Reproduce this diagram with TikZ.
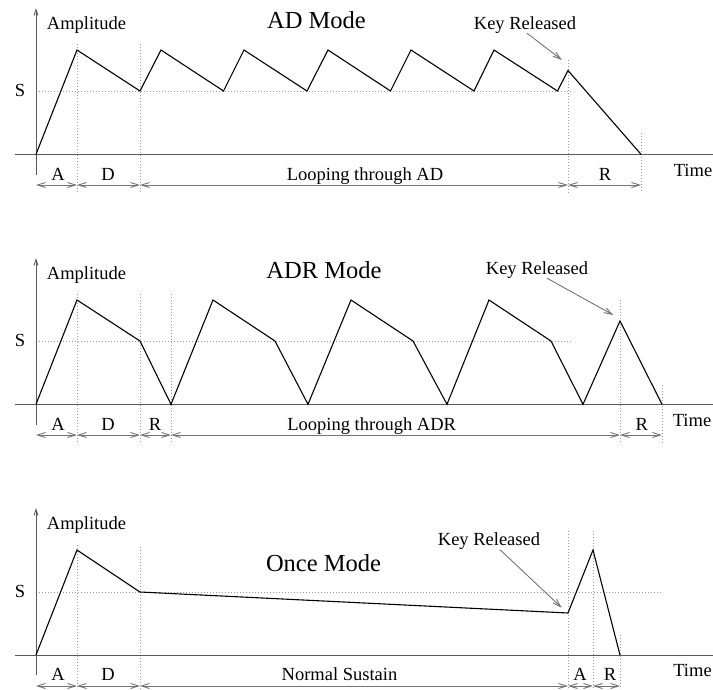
\documentclass[tikz,border=0pt]{standalone}
\usepackage{fontspec}
\setmainfont{Liberation Serif}
\usetikzlibrary{arrows.meta}

\tikzset{
  env/.style={line width=1.1pt, line join=miter},
  axis/.style={line width=0.9pt, black!65},
  guide/.style={line width=0.9pt, black!40, dash pattern=on 1pt off 2pt},
  dim/.style={line width=0.9pt, black!55,
    {Straight Barb[length=8pt,width=5pt]}-{Straight Barb[length=8pt,width=5pt]}},
  pointer/.style={line width=0.9pt, black!55, -{Straight Barb[length=8pt,width=5pt]}},
  yarrow/.style={axis, -{Straight Barb[length=6pt,width=4pt]}},
  lbl/.style={anchor=base, inner sep=0pt, font=\fontsize{18.5}{22}\selectfont},
  mode/.style={anchor=base, inner sep=0pt, font=\fontsize{24.5}{28}\selectfont},
}

\begin{document}
\begin{tikzpicture}[x=1pt, y=-1pt]
  \useasboundingbox (0,0) rectangle (713,689);

  % ---------------- AD mode ----------------
  \coordinate (a0) at (36,154.3);
  \foreach \i/\x in {1/77,2/161,3/244,4/328,5/411,6/494}
    \coordinate (ap\i) at (\x,50);
  \foreach \i/\x in {1/140,2/223.5,3/307,4/390.5,5/474,6/557.5}
    \coordinate (as\i) at (\x,91);
  \coordinate (ak) at (568,70.5);
  \coordinate (ae) at (641,154.3);
  \coordinate (arow) at (0,185);
  \coordinate (atop) at (36,8);
  \coordinate (abot) at (36,175);
  \coordinate (ax0) at (15,154.3);
  \coordinate (ax1) at (713,154.3);
  \coordinate (akt) at (562,60);

  \draw[guide] (36,91) -- (572,91);
  \draw[guide] (77,44) -- (77,193);
  \draw[guide] (140,44) -- (140,193);
  \draw[guide] (568,60) -- (568,193);
  \draw[guide] (641,133) -- (641,193);

  \draw[axis] (ax0) -- (ax1);
  \draw[yarrow] (abot) -- (atop);
  \draw[env] (a0) \foreach \i in {1,...,6}{ -- (ap\i) -- (as\i)} -- (ak) -- (ae);

  \draw[dim] (a0 |- arow) -- (ap1 |- arow);
  \draw[dim] (ap1 |- arow) -- (as1 |- arow);
  \draw[dim] (as1 |- arow) -- (ak |- arow);
  \draw[dim] (ak |- arow) -- (ae |- arow);

  \node[lbl] (aamp) at (86.5,29.3) {Amplitude};
  \node[lbl] (aslbl) at (20,96.7) {S};
  \node[mode] (amode) at (316.5,28.3) {AD Mode};
  \node[lbl] (aA) at (58,180) {A};
  \node[lbl] (aD) at (108,180) {D};
  \node[lbl] (aloop) at (365,180) {Looping through AD};
  \node[lbl] (aR) at (605,180) {R};
  \node[lbl] (atime) at (693,176) {Time};
  \node[lbl] (akey) at (525,29) {Key Released};
  \draw[pointer] ([xshift=2pt]akey.south) -- (akt);

  % ---------------- ADR mode ----------------
  \coordinate (b0) at (36,404.3);
  \foreach \i/\x in {1/77,2/213,3/351,4/489}
    \coordinate (bp\i) at (\x,300);
  \foreach \i/\x in {1/140,2/275,3/413,4/551}
    \coordinate (bs\i) at (\x,341);
  \foreach \i/\x in {1/171,2/308,3/447,4/583}
    \coordinate (bv\i) at (\x,404.3);
  \coordinate (bk) at (620,321);
  \coordinate (be) at (662,404.3);
  \coordinate (brow) at (0,435);
  \coordinate (btop) at (36,258);
  \coordinate (bbot) at (36,425);
  \coordinate (bx0) at (15,404.3);
  \coordinate (bx1) at (713,404.3);
  \coordinate (bkt) at (613.3,315);

  \draw[guide] (36,341) -- (572,341);
  \draw[guide] (77,294) -- (77,443);
  \draw[guide] (140,294) -- (140,443);
  \draw[guide] (171,294) -- (171,443);
  \draw[guide] (620,300) -- (620,443);
  \draw[guide] (662,385) -- (662,443);

  \draw[axis] (bx0) -- (bx1);
  \draw[yarrow] (bbot) -- (btop);
  \draw[env] (b0) \foreach \i in {1,...,4}{ -- (bp\i) -- (bs\i) -- (bv\i)} -- (bk) -- (be);

  \draw[dim] (b0 |- brow) -- (bp1 |- brow);
  \draw[dim] (bp1 |- brow) -- (bs1 |- brow);
  \draw[dim] (bs1 |- brow) -- (bv1 |- brow);
  \draw[dim] (bv1 |- brow) -- (bk |- brow);
  \draw[dim] (bk |- brow) -- (be |- brow);

  \node[lbl] (bamp) at (86.5,279.3) {Amplitude};
  \node[lbl] (bslbl) at (20,346.7) {S};
  \node[mode] (bmode) at (324,278.3) {ADR Mode};
  \node[lbl] (bA) at (58,430) {A};
  \node[lbl] (bD) at (108,430) {D};
  \node[lbl] (bR) at (155,430) {R};
  \node[lbl] (bloop) at (371.7,430) {Looping through ADR};
  \node[lbl] (bR2) at (641.7,430) {R};
  \node[lbl] (btime) at (692,426) {Time};
  \node[lbl] (bkey) at (537,274) {Key Released};
  \draw[pointer] ([xshift=10pt]bkey.south) -- (bkt);

  % ---------------- Once mode ----------------
  \coordinate (c0) at (36,655);
  \coordinate (cp) at (77,550);
  \coordinate (cs) at (140,592);
  \coordinate (ck) at (568,613);
  \coordinate (cp2) at (593,550);
  \coordinate (ce) at (620,655);
  \coordinate (crow) at (0,686);
  \coordinate (ctop) at (36,508);
  \coordinate (cbot) at (36,675);
  \coordinate (cx0) at (15,655);
  \coordinate (cx1) at (713,655);
  \coordinate (ckt) at (561.7,607.7);

  \draw[guide] (36,592) -- (662,592);
  \draw[guide] (77,545) -- (77,689);
  \draw[guide] (140,547) -- (140,689);
  \draw[guide] (568,531) -- (568,689);
  \draw[guide] (593,531) -- (593,689);
  \draw[guide] (620,635) -- (620,689);

  \draw[axis] (cx0) -- (cx1);
  \draw[yarrow] (cbot) -- (ctop);
  \draw[env] (c0) -- (cp) -- (cs) -- (ck) -- (cp2) -- (ce);

  \draw[dim] (c0 |- crow) -- (cp |- crow);
  \draw[dim] (cp |- crow) -- (cs |- crow);
  \draw[dim] (cs |- crow) -- (ck |- crow);
  \draw[dim] (ck |- crow) -- (cp2 |- crow);
  \draw[dim] (cp2 |- crow) -- (ce |- crow);

  \node[lbl] (camp) at (86.5,529.3) {Amplitude};
  \node[lbl] (cslbl) at (20,597) {S};
  \node[mode] (cmode) at (323.5,571.7) {Once Mode};
  \node[lbl] (cA) at (58,680) {A};
  \node[lbl] (cD) at (108,680) {D};
  \node[lbl] (cnorm) at (339.5,680) {Normal Sustain};
  \node[lbl] (cA2) at (580,680) {A};
  \node[lbl] (cR) at (610,680) {R};
  \node[lbl] (ctime) at (692.5,676.7) {Time};
  \node[lbl] (ckey) at (489,545.5) {Key Released};
  \draw[pointer] ([xshift=11pt]ckey.south) -- (ckt);
\end{tikzpicture}
\end{document}
